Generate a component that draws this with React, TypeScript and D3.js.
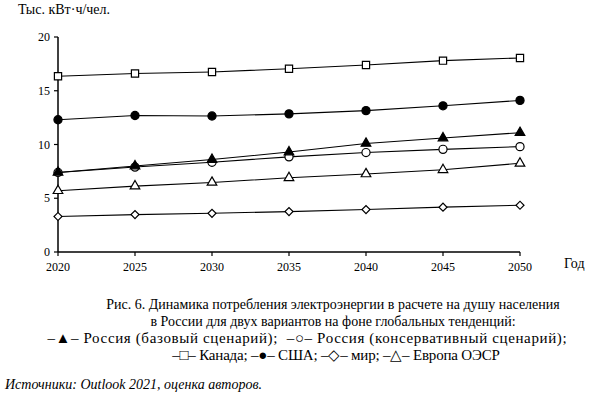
import React, { useLayoutEffect, useRef } from 'react';
import * as d3 from 'd3';

const years = [2020, 2025, 2030, 2035, 2040, 2045, 2050];
const yTicks = [0, 5, 10, 15, 20];

const russiaBase = [7.4, 8.0, 8.6, 9.3, 10.1, 10.6, 11.1];
const russiaCons = [7.4, 7.9, 8.35, 8.85, 9.25, 9.55, 9.8];
const canada = [16.35, 16.6, 16.75, 17.05, 17.4, 17.8, 18.05];
const usa = [12.3, 12.7, 12.65, 12.85, 13.15, 13.6, 14.1];
const world = [3.3, 3.48, 3.6, 3.76, 3.95, 4.17, 4.35];
const europe = [5.7, 6.13, 6.47, 6.9, 7.26, 7.65, 8.25];

const captionLines = [
  'Рис. 6. Динамика потребления электроэнергии в расчете на душу населения',
  'в России для двух вариантов на фоне глобальных тенденций:',
  '–▲– Россия (базовый сценарий);  –○– Россия (консервативный сценарий);',
  '–□– Канада; –●– США; –◇– мир; –△– Европа ОЭСР',
];

type Series = { name: string; values: number[]; shape: 'triangle' | 'circle' | 'square' | 'diamond'; fill: string };

const series: Series[] = [
  { name: 'Канада', values: canada, shape: 'square', fill: '#fff' },
  { name: 'США', values: usa, shape: 'circle', fill: '#000' },
  { name: 'Европа ОЭСР', values: europe, shape: 'triangle', fill: '#fff' },
  { name: 'мир', values: world, shape: 'diamond', fill: '#fff' },
  { name: 'Россия (консервативный сценарий)', values: russiaCons, shape: 'circle', fill: '#fff' },
  { name: 'Россия (базовый сценарий)', values: russiaBase, shape: 'triangle', fill: '#000' },
];

const font = 'Liberation Serif';

export default function App() {
  const width = 595;
  const height = 398;
  const x = d3.scaleLinear().domain([2020, 2050]).range([58, 520]);
  const y = d3.scaleLinear().domain([0, 20]).range([252, 37]);
  const capRef = useRef<SVGGElement>(null);

  const line = d3.line<number>()
    .x((_, i) => x(years[i]))
    .y(d => y(d));

  const symbolPath = (shape: Series['shape']) => {
    if (shape === 'triangle') return d3.symbol(d3.symbolTriangle, 40)()!;
    if (shape === 'circle') return d3.symbol(d3.symbolCircle, 52)()!;
    if (shape === 'square') return d3.symbol(d3.symbolSquare, 52)()!;
    return d3.symbol(d3.symbolSquare, 32)()!;
  };

  // caption line centres and width stretch
  const captionX = [333, 333, 307, 336];
  const stretch = [1, 1, 1.09, 0.975];

  useLayoutEffect(() => {
    if (!capRef.current) return;
    d3.select(capRef.current).selectAll<SVGTextElement, unknown>('text').each(function (_, i) {
      if (stretch[i] === 1) return;
      const w = this.getComputedTextLength();
      d3.select(this).attr('textLength', w * stretch[i]).attr('lengthAdjust', 'spacing');
    });
  }, []);

  return (
    <svg width={width} height={height} style={{ position: 'absolute', left: 0, top: 0, background: '#fff' }}>
      <text x={18} y={14} fontSize={14} fontFamily={font}>Тыс. кВт·ч/чел.</text>

      {/* axes */}
      <line x1={x(2020)} x2={x(2020)} y1={y(20)} y2={y(0)} stroke="#000" strokeWidth={1.5} />
      <line x1={x(2020)} x2={x(2050)} y1={y(0)} y2={y(0)} stroke="#000" strokeWidth={1.5} />
      {yTicks.map(t => (
        <g key={t}>
          <line x1={x(2020) - 4} x2={x(2020)} y1={y(t)} y2={y(t)} stroke="#000" strokeWidth={1.2} />
          <text x={x(2020) - 8} y={y(t) + 4} fontSize={12} fontFamily={font} textAnchor="end">{t}</text>
        </g>
      ))}
      {years.map(t => (
        <g key={t}>
          <line x1={x(t)} x2={x(t)} y1={y(0)} y2={y(0) + 4} stroke="#000" strokeWidth={1.2} />
          <text x={x(t)} y={y(0) + 19} fontSize={12} fontFamily={font} textAnchor="middle">{t}</text>
        </g>
      ))}
      <text x={564} y={268} fontSize={14} fontFamily={font}>Год</text>

      {/* series */}
      {series.map(s => (
        <g key={s.name}>
          <path d={line(s.values)!} fill="none" stroke="#000" strokeWidth={1.1} />
          {s.values.map((v, i) => (
            <path
              key={i}
              d={symbolPath(s.shape)}
              transform={`translate(${x(years[i])},${y(v)})${s.shape === 'diamond' ? ' rotate(45)' : ''}`}
              fill={s.fill}
              stroke="#000"
              strokeWidth={1.2}
            />
          ))}
        </g>
      ))}

      {/* caption */}
      <g ref={capRef}>
        {captionLines.map((c, i) => (
          <text key={i} x={captionX[i]} y={309 + i * 17} fontSize={i < 2 ? 14 : 15} fontFamily={font} textAnchor="middle" style={{ whiteSpace: 'pre' }}>{c}</text>
        ))}
      </g>
      <text x={5} y={389} fontSize={14} fontFamily={font} fontStyle="italic">Источники: Outlook 2021, оценка авторов.</text>
    </svg>
  );
}
